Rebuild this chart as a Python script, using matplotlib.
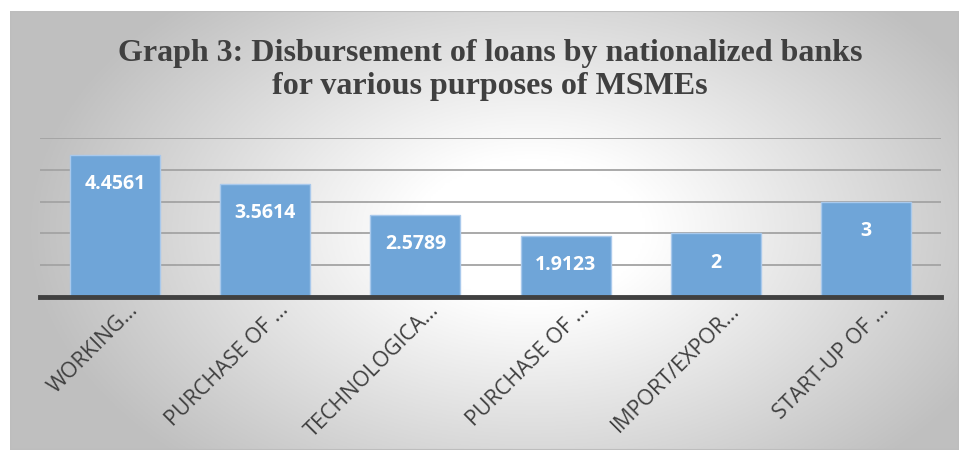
import numpy as np
import matplotlib.pyplot as plt
from matplotlib.transforms import ScaledTranslation

# data
categories = ["WORKING…", "PURCHASE OF …", "TECHNOLOGICA…",
              "PURCHASE OF …", "IMPORT/EXPOR…", "START-UP OF …"]
values = [4.4561, 3.5614, 2.5789, 1.9123, 2, 3]
value_labels = ["4.4561", "3.5614", "2.5789", "1.9123", "2", "3"]
title = "Graph 3: Disbursement of loans by nationalized banks\nfor various purposes of MSMEs"

W, H = 959, 450
fig = plt.figure(figsize=(W / 100, H / 100), dpi=100)
fig.patch.set_facecolor("white")

# gradient chart area (white centre, grey edges)
bg = fig.add_axes([10 / W, 0, 1 - 10 / W, 1 - 11 / H])
ny, nx = 200, 400
yy, xx = np.mgrid[0:1:ny * 1j, 0:1:nx * 1j]
d = np.sqrt(((xx - 0.55) / 0.55) ** 2 + ((yy - 0.5) / 0.75) ** 2)
shade = 1 - 0.25 * np.clip((d - 0.22) / 0.75, 0, 1)
bg.imshow(np.dstack([shade] * 3), aspect="auto", extent=[0, 1, 0, 1], origin="lower")
bg.set_axis_off()
bg.add_patch(plt.Rectangle((0, 0), 1, 1, transform=bg.transAxes, fill=False,
                           ec="#bdbdbd", lw=1.5))

fig.text(490 / W, 1 - 70 / H, title, ha="center", va="center",
         family="Liberation Serif", weight="bold", fontsize=23,
         color="#404040", linespacing=1.15)

ax = fig.add_axes([40 / W, 1 - 297 / H, 901 / W, 159 / H])
ax.patch.set_alpha(0)
x = np.arange(len(categories))
bars = ax.bar(x, values, width=0.6, color="#6fa5d8", edgecolor="#a9c9ec",
              linewidth=1, zorder=3)
ax.set_xlim(-0.5, len(categories) - 0.5)
ax.set_ylim(0, 5)
ax.set_yticks(np.arange(0, 6, 1))
ax.yaxis.grid(True, color="#a3a3a3", lw=1.3, zorder=0)
ax.tick_params(axis="y", left=False, labelleft=False)
for s in ["left", "right", "top"]:
    ax.spines[s].set_visible(False)
ax.spines["bottom"].set_color("#404040")
ax.spines["bottom"].set_linewidth(3.5)
ax.spines["bottom"].set_zorder(4)

ax.set_xticks(x)
ax.set_xticklabels(categories, rotation=45, ha="right", rotation_mode="anchor",
                   family="Open Sans", fontsize=15.5, color="#404040")
ax.tick_params(axis="x", length=0, pad=2)
for lab in ax.get_xticklabels():
    lab.set_transform(lab.get_transform() +
                      ScaledTranslation(13 / 100, 0, fig.dpi_scale_trans))

for b, txt in zip(bars, value_labels):
    ax.annotate(txt, (b.get_x() + b.get_width() / 2, b.get_height()),
                xytext=(0, -21), textcoords="offset points", ha="center",
                va="center", color="white", weight="bold", family="Open Sans",
                fontsize=14, zorder=5)

fig.savefig("out.png", dpi=100)
